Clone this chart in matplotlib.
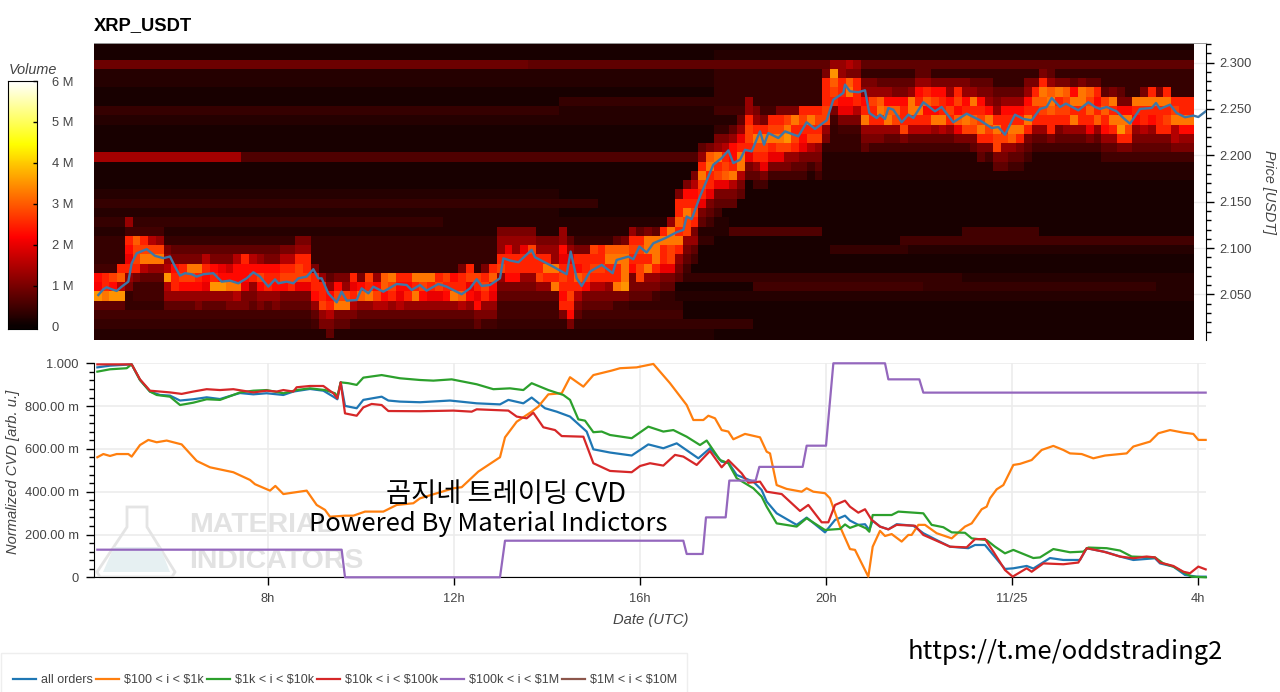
import numpy as np
import matplotlib
matplotlib.use('Agg')
import matplotlib.pyplot as plt
from matplotlib.patches import Polygon, Rectangle
from matplotlib.ticker import MultipleLocator
from matplotlib.transforms import Affine2D

# ----------------- data -----------------
# hours since 11/24 00:00, price in USDT
price_h = [4.351, 4.459, 4.530, 4.638, 4.746, 4.853, 4.996, 5.068, 5.176, 5.391, 5.570, 5.749, 5.892, 6.0, 6.108, 6.215,
           6.358, 6.466, 6.609, 6.824, 7.004, 7.183, 7.362, 7.541, 7.685, 7.828, 8.007, 8.151, 8.222, 8.401, 8.545,
           8.652, 8.832, 8.975, 9.082, 9.154, 9.297, 9.477, 9.584, 9.692, 9.907, 10.014, 10.158, 10.265, 10.480,
           10.767, 10.982, 11.090, 11.269, 11.412, 11.663, 11.842, 12.165, 12.344, 12.488, 12.595, 12.775, 12.989,
           13.061, 13.204, 13.384, 13.670, 13.742, 14.101, 14.423, 14.509, 14.638, 14.746, 14.925, 15.176, 15.412,
           15.498, 15.749, 15.857, 15.986, 16.143, 16.287, 16.538, 16.789, 16.932, 17.004, 17.111, 17.290, 17.577,
           17.756, 17.900, 18.007, 18.151, 18.258, 18.402, 18.581, 18.667, 18.760, 18.975, 19.119, 19.405, 19.584,
           19.763, 20.014, 20.158, 20.373, 20.409, 20.516, 20.695, 20.839, 20.932, 21.090, 21.161, 21.269, 21.341,
           21.448, 21.627, 21.771, 21.878, 22.093, 22.344, 22.487, 22.738, 23.025, 23.312, 23.563, 23.706, 23.849,
           24.064, 24.244, 24.423, 24.602, 24.746, 24.853, 25.032, 25.161, 25.427, 25.642, 25.785, 25.892, 26.036,
           26.251, 26.394, 26.538, 26.753, 27.004, 27.097, 27.183, 27.398, 27.541, 27.721, 27.900, 28.007, 28.165]
price = [2.0494, 2.0556, 2.0577, 2.0556, 2.0538, 2.0584, 2.0638, 2.0836, 2.0944, 2.0988, 2.0916, 2.0891, 2.0909, 2.0800,
         2.0703, 2.0729, 2.0718, 2.0692, 2.0718, 2.0729, 2.0638, 2.0649, 2.0620, 2.0674, 2.0739, 2.0692, 2.0584, 2.0663,
         2.0620, 2.0638, 2.0620, 2.0674, 2.0692, 2.0772, 2.0674, 2.0674, 2.0512, 2.0415, 2.0530, 2.0433, 2.0440, 2.0566,
         2.0512, 2.0584, 2.0530, 2.0613, 2.0602, 2.0548, 2.0602, 2.0541, 2.0613, 2.0584, 2.0502, 2.0566, 2.0664, 2.0592,
         2.0602, 2.0675, 2.0890, 2.0866, 2.0847, 2.0980, 2.0901, 2.0808, 2.0718, 2.0962, 2.0674, 2.0592, 2.0747, 2.0819,
         2.0729, 2.0872, 2.0908, 2.0880, 2.1016, 2.0952, 2.1052, 2.1106, 2.1171, 2.1196, 2.1340, 2.1312, 2.1556, 2.1898,
         2.1970, 2.2053, 2.1916, 2.1952, 2.2060, 2.2042, 2.2258, 2.2114, 2.2240, 2.2186, 2.2258, 2.2204, 2.2356, 2.2284,
         2.2377, 2.2600, 2.2672, 2.2762, 2.2690, 2.2680, 2.2701, 2.2456, 2.2402, 2.2438, 2.2392, 2.2510, 2.2492, 2.2356,
         2.2438, 2.2402, 2.2572, 2.2474, 2.2521, 2.2356, 2.2449, 2.2377, 2.2294, 2.2305, 2.2222, 2.2438, 2.2392, 2.2377,
         2.2500, 2.2521, 2.2618, 2.2521, 2.2557, 2.2485, 2.2572, 2.2521, 2.2500, 2.2521, 2.2474, 2.2402, 2.2341, 2.2500,
         2.2510, 2.2564, 2.2500, 2.2546, 2.2456, 2.2410, 2.2428, 2.2413, 2.2474]

# heatmap: 10 minute columns, 0.01 USDT rows from the top, volume in steps of 0.125 M (base 36 digits)
# background per row as (number of columns, level)
base_rows = [
    [(142, '1')], [(80, '1'), (62, '2')], [(56, '7'), (86, '6')], [(80, '2'), (62, '3')], [(80, '2'), (62, '3')],
    [(80, '1'), (62, '3')], [(60, '1'), (82, '3')], [(60, '3'), (20, '2'), (62, '4')], [(85, '2'), (57, '3')],
    [(80, '1'), (62, '3')], [(85, '1'), (57, '3')], [(85, '1'), (57, '3')], [(19, 'b'), (64, '5'), (59, '2')],
    [(85, '1'), (57, '2')], [(85, '1'), (57, '2')], [(142, '1')], [(60, '2'), (82, '1')], [(65, '3'), (77, '1')],
    [(60, '2'), (82, '1')], [(45, '3'), (37, '2'), (60, '1')], [(82, '2'), (12, '5'), (18, '1'), (10, '4'), (20, '1')],
    [(80, '3'), (24, '1'), (38, '4')], [(70, '3'), (25, '1'), (10, '3'), (37, '2')], [(70, '3'), (72, '1')],
    [(75, '3'), (67, '1')], [(75, '4'), (37, '3'), (30, '2')], [(75, '3'), (10, '1'), (22, '4'), (30, '3'), (5, '2')],
    [(75, '3'), (67, '2')], [(76, '3'), (66, '1')], [(76, '4'), (66, '1')], [(85, '3'), (57, '1')],
    [(80, '2'), (62, '1')], [(80, '2'), (62, '1')],
]
# hot band per column: first row and the levels going down from it
band_start = [24, 24, 24, 24, 19, 20, 20, 20, 20, 22, 22, 22, 22, 22, 22, 22, 22, 22, 22, 22,
              22, 22, 22, 22, 22, 22, 21, 21, 24, 25, 25, 25, 25, 25, 25, 25, 25, 25, 25, 25,
              25, 25, 25, 25, 25, 25, 25, 24, 24, 25, 24, 24, 20, 20, 20, 20, 20, 21, 21, 21,
              20, 21, 22, 22, 22, 22, 22, 21, 21, 20, 20, 20, 20, 20, 19, 16, 15, 14, 11, 11,
              10, 10, 9, 8, 6, 7, 8, 8, 7, 7, 7, 7, 7, 7, 3, 2, 2, 2, 2, 4,
              4, 4, 4, 4, 4, 4, 3, 3, 4, 4, 4, 4, 4, 4, 4, 4, 5, 5, 5, 5,
              4, 4, 3, 3, 4, 4, 4, 4, 4, 4, 5, 5, 5, 6, 6, 5, 5, 5, 5, 6, 6, 6]
band_levels = ['4ihs64', '4kkq64', '4mis64', 'kocs64', 'a4kigka8', '4ommk844', '4kmqc644', '4cmqa644', '4amqa644',
               '8acsca6', '68ikka6', '68kmia6', '68qmia6', '68qkia8', '6ckiga6', '68iksa6', '68gisa6', '68eiqa8',
               '6ciiqc8', '6kiig88', '6cika86', '6aimia8', '68ikka6', '68ikia8', '8ckmi86', '8ckmk86', '8akmmg86',
               '8akkmg86', '8kkia64', 'akkma8', '6aikc86', '8imq86', '8amq86', 'kgkc84', '8ioa64', 'mkqa64',
               'aimc64', 'ooic64', 'qmka64', 'kigc64', 'kika64', 'qkqa64', 'qmia64', 'qkga64', 'kmga64', 'mkia64',
               'ikqa64', '8kkoc64', 'kmgia64', 'mkgi86', '8kmka84', 'koiga84', '8aakma864', '8agkki864', '8aakki864',
               '8agkka864', '8amkka864', '8akkma64', '8akqka64', '8aaqkq64', 'aaigkmkik8', '6agkkkmki8', '8kiokc86',
               '8kkmi86', 'mkmkc86', 'kkmkc86', 'oqkka86', '6oqkkq84', '8oqqqs84', 'akmki886', '6kmkmm86', '8qqkqa86',
               '6qqqka84', 'kqkkg86', 'aqqmmg86', '8kkokqka86', '8ikqmma864', '8cikmk8a64', '6akqmkg86', '8oqkkg864',
               '8aqkmg864', '8ckmog86', '6aiikqc86', '6agkqqc86', 'aakmmkg86', '8akqmka64', '8kqmkg84', 'kmqkg84',
               '8kmqmg84', '8mqsma84', '8qkmka64', 'kmkig864', 'kqkmc84', 'kmkma864', '8kkkmma8', 'asomk84',
               'aakkig84', 'c8oqig84', 'a8kkkc84', '8aikqa86', '8amkka84', '6aoqka84', '6aioqa64', '68ioma64',
               '68ikkm84', '6aqqkc64', '6aikqkc64', '6akoikc64', '8imiqa64', '8ikkqc64', '8aimka64', '8kmiog84',
               '8aikqm84', '6aqkom86', '68ikmqk86', '68aiqmk84', '68akqmm86', '6aikkma86', '6aikqoa64', '6aikqk864',
               '8aikqk864', '8kokka64', '8kqomka64', '6aoqokk84', '8qkmk864', '8ommka64', '6iqkqa64', '8qqkka64',
               '6omokg84', '6kikoa64', '6mokia64', '8qkqka64', '68iqsk84', '8iqmk84', 'qkia864', '8qkkc864',
               'kqkia864', '8qkkk864', 'kqkmk864', 'kmqcc84', 'kkqia84', 'kkqia84']

# normalized CVD per order size
blue_h = [4.330, 4.602, 5.068, 5.247, 5.462, 5.677, 5.892, 6.108, 6.394, 6.681, 6.968, 7.254, 7.398, 7.685, 7.971, 8.330,
          8.545, 8.903, 9.190, 9.405, 9.491, 9.563, 9.656, 9.907, 10.050, 10.444, 10.588, 10.839, 11.269, 11.914, 12.488,
          12.989, 13.169, 13.491, 13.670, 13.957, 14.208, 14.495, 14.853, 14.997, 15.355, 15.821, 16.179, 16.502, 16.789,
          17.255, 17.505, 17.756, 17.900, 18.079, 18.437, 18.616, 18.724, 18.939, 19.369, 19.584, 19.978, 20.194, 20.409,
          20.516, 20.695, 20.839, 20.932, 21.004, 21.161, 21.341, 21.520, 21.878, 22.093, 22.344, 22.667, 23.061, 23.204,
          23.419, 23.599, 23.849, 24.029, 24.315, 24.459, 24.817, 25.104, 25.462, 25.606, 26.036, 26.323, 26.609, 27.075,
          27.183, 27.470, 27.720, 27.971, 28.165]
blue = [.981, .989, .995, .922, .868, .852, .849, .826, .832, .841, .833, .852, .861, .855, .860, .852, .868, .880, .872,
        .844, .832, .911, .801, .790, .829, .844, .826, .821, .818, .826, .813, .808, .829, .813, .840, .790, .774, .751,
        .681, .598, .583, .569, .621, .603, .626, .556, .603, .540, .537, .478, .447, .408, .354, .299, .245, .279, .210,
        .268, .288, .265, .245, .248, .221, .265, .237, .224, .248, .241, .206, .178, .143, .136, .151, .151, .104, .039,
        .042, .053, .041, .090, .081, .081, .136, .117, .097, .081, .089, .065, .050, .011, .003, .003]

orange_h = [4.330, 4.459, 4.602, 4.746, 4.996, 5.068, 5.247, 5.427, 5.606, 5.821, 6.143, 6.466, 6.753, 7.254, 7.613, 7.720,
            8.043, 8.158, 8.330, 8.832, 9.047, 9.226, 9.333, 9.656, 9.835, 10.086, 10.480, 10.767, 11.125, 11.269, 11.986,
            12.165, 12.523, 12.989, 13.097, 13.348, 13.670, 13.814, 14.029, 14.316, 14.495, 14.782, 14.997, 15.391, 15.570,
            15.928, 16.287, 16.645, 17.004, 17.147, 17.362, 17.470, 17.613, 17.756, 17.900, 18.007, 18.258, 18.581, 18.724,
            18.796, 18.939, 19.154, 19.477, 19.584, 19.728, 19.978, 20.086, 20.301, 20.516, 20.624, 20.910, 21.004, 21.161,
            21.269, 21.412, 21.627, 21.771, 21.842, 21.986, 22.129, 22.380, 22.703, 22.989, 23.133, 23.348, 23.455, 23.527,
            23.670, 23.814, 24.029, 24.172, 24.423, 24.638, 24.889, 25.104, 25.247, 25.498, 25.749, 26.000, 26.466, 26.609,
            26.968, 27.147, 27.398, 27.685, 27.900, 28.007, 28.165]
orange = [.561, .576, .567, .576, .576, .564, .618, .642, .631, .639, .621, .544, .514, .491, .455, .435, .405, .427, .389,
          .405, .338, .315, .283, .288, .288, .307, .307, .338, .346, .369, .416, .421, .494, .561, .654, .727, .774, .798,
          .855, .860, .935, .891, .945, .966, .977, .981, .997, .907, .805, .735, .735, .755, .743, .688, .681, .645, .670,
          .654, .587, .579, .431, .413, .400, .416, .400, .393, .369, .237, .132, .128, .003, .143, .217, .193, .202, .167,
          .198, .198, .245, .245, .206, .182, .237, .252, .318, .330, .369, .411, .431, .525, .530, .548, .595, .614, .595,
          .579, .576, .556, .569, .579, .611, .634, .673, .688, .676, .670, .642, .642]

green_h = [4.330, 4.602, 4.961, 5.068, 5.247, 5.462, 5.606, 5.892, 6.108, 6.394, 6.681, 6.968, 7.254, 7.398, 7.685, 7.971,
           8.330, 8.616, 8.903, 9.226, 9.441, 9.491, 9.563, 9.728, 9.907, 10.050, 10.444, 10.839, 11.269, 11.556, 11.950,
           12.488, 12.846, 13.204, 13.491, 13.670, 14.029, 14.351, 14.495, 14.674, 14.817, 14.997, 15.176, 15.355, 15.821,
           16.179, 16.502, 16.717, 17.004, 17.290, 17.434, 17.720, 17.900, 18.079, 18.437, 18.616, 18.724, 18.939, 19.369,
           19.584, 19.978, 20.301, 20.409, 20.516, 20.695, 20.860, 20.932, 21.004, 21.412, 21.556, 22.093, 22.272, 22.523,
           22.703, 22.989, 23.133, 23.455, 23.635, 23.849, 24.029, 24.459, 24.602, 24.889, 25.247, 25.534, 25.642, 26.036,
           26.323, 26.573, 27.075, 27.254, 27.470, 27.864, 28.165]
green = [.961, .972, .977, .995, .922, .868, .852, .844, .805, .816, .832, .829, .852, .864, .872, .875, .860, .875, .883,
         .875, .860, .844, .911, .907, .899, .933, .945, .930, .922, .919, .925, .902, .879, .883, .875, .907, .875, .852,
         .829, .738, .732, .678, .681, .665, .650, .704, .681, .688, .657, .618, .639, .548, .533, .463, .416, .377, .330,
         .252, .237, .276, .221, .226, .247, .231, .245, .229, .213, .291, .291, .307, .299, .245, .234, .210, .208, .182,
         .174, .143, .112, .128, .090, .093, .132, .117, .120, .139, .136, .125, .097, .093, .065, .050, .003, .000]

red_h = [4.330, 5.068, 5.247, 5.462, 5.677, 5.892, 6.143, 6.394, 6.681, 6.968, 7.254, 7.685, 7.971, 8.186, 8.330, 8.545,
         8.616, 8.903, 9.190, 9.405, 9.491, 9.563, 9.656, 9.907, 10.050, 10.229, 10.444, 10.588, 11.269, 11.986, 12.380,
         12.488, 13.169, 13.348, 13.563, 13.706, 13.921, 14.172, 14.316, 14.782, 14.997, 15.355, 15.821, 16.0, 16.215,
         16.502, 16.753, 16.932, 17.219, 17.505, 17.756, 17.900, 18.186, 18.330, 18.581, 18.724, 19.047, 19.441, 19.620,
         19.907, 20.050, 20.194, 20.409, 20.516, 20.695, 20.839, 20.982, 21.161, 21.341, 21.520, 21.914, 22.093, 22.344,
         22.667, 23.025, 23.204, 23.419, 23.599, 23.849, 24.014, 24.315, 24.423, 24.674, 25.104, 25.427, 25.606, 25.964,
         26.323, 26.609, 26.896, 27.075, 27.183, 27.470, 27.685, 27.828, 28.007, 28.165]
red = [.995, .995, .925, .872, .868, .864, .857, .868, .879, .875, .879, .864, .872, .868, .875, .868, .888, .894, .894,
       .860, .836, .911, .766, .755, .794, .810, .805, .777, .776, .779, .774, .785, .779, .751, .743, .769, .701, .688,
       .660, .657, .533, .497, .491, .520, .533, .522, .572, .564, .525, .590, .514, .548, .486, .442, .447, .400, .389,
       .310, .338, .257, .257, .338, .358, .330, .302, .318, .268, .237, .224, .245, .241, .198, .174, .143, .140, .178,
       .179, .120, .034, .003, .042, .026, .065, .061, .069, .136, .120, .097, .089, .097, .093, .069, .053, .026, .019,
       .050, .037]

purple_h = [4.330, 9.584, 9.656, 12.989, 13.097, 16.932, 17.004, 17.348, 17.419, 17.842, 17.921, 18.487, 18.566, 19.498,
            19.584, 20.0, 20.158, 21.269, 21.341, 22.007, 22.093, 28.165]
purple = [.129, .129, 0, 0, .171, .171, .109, .109, .280, .280, .452, .452, .516, .516, .615, .615, 1.0, 1.0, .925, .925,
          .863, .863]

price_ticks = [2.05, 2.10, 2.15, 2.20, 2.25, 2.30]
cvd_ticks = [0, 0.2, 0.4, 0.6, 0.8, 1.0]
cvd_labels = ['0', '200.00 m', '400.00 m', '600.00 m', '800.00 m', '1.000']
time_ticks = [8, 12, 16, 20, 24, 28]
time_labels = ['8h', '12h', '16h', '20h', '11/25', '4h']
vol_ticks = [0, 1, 2, 3, 4, 5, 6]
vol_labels = ['0', '1 M', '2 M', '3 M', '4 M', '5 M', '6 M']

# ----------------- figure -----------------
plt.rcParams['font.family'] = ['Liberation Sans', 'DejaVu Sans']
GREY = '#444444'
GRID = '#ececec'
W, H = 1280, 692
XLIM = (4.258, 28.172)

fig = plt.figure(figsize=(W / 100, H / 100), dpi=100)
px = Affine2D().scale(1, -1).translate(0, H)  # y down pixels for the free text


def pos(left, top, right, bottom):
    return [left / W, 1 - bottom / H, (right - left) / W, (bottom - top) / H]


# heatmap panel
ax1 = fig.add_axes(pos(94, 42.5, 1206, 340))
volume = np.zeros((len(base_rows), len(band_start)))
for r, segs in enumerate(base_rows):
    volume[r] = [int(lv, 36) * 0.125 for n, lv in segs for _ in range(n)]
for c, (s, lv) in enumerate(zip(band_start, band_levels)):
    for k, ch in enumerate(lv):
        volume[s + k, c] = max(volume[s + k, c], int(ch, 36) * 0.125)
t_edges = XLIM[0] + np.arange(volume.shape[1] + 1) / 6
p_edges = 2.3232 - 0.01 * np.arange(volume.shape[0] + 1)
ax1.pcolormesh(t_edges, p_edges, volume, cmap='hot', vmin=0, vmax=6, zorder=2, linewidth=0, antialiased=False)
ax1.plot(price_h, price, color='#3d78a8', lw=1.7, zorder=3, solid_joinstyle='round')
ax1.set_xlim(XLIM)
ax1.set_ylim(2.0009, 2.3216)
ax1.yaxis.tick_right()
ax1.set_yticks(price_ticks, [f'{p:.3f}' for p in price_ticks])
ax1.yaxis.set_minor_locator(MultipleLocator(0.01))
ax1.set_xticks([])
ax1.tick_params(axis='y', which='major', length=6, width=1, color='k', labelcolor=GREY, labelsize=9.3, pad=3.5)
ax1.tick_params(axis='y', which='minor', length=3.5, width=1, color='k')
ax1.grid(axis='y', color=GRID, lw=1, zorder=0)
for side in ['left', 'bottom']:
    ax1.spines[side].set_visible(False)
ax1.spines['top'].set_color('#999999')
ax1.spines['top'].set_linewidth(0.7)
ax1.spines['right'].set_color('k')

# CVD panel
ax2 = fig.add_axes(pos(94, 363.3, 1206, 577.3))
ax2.plot(blue_h, blue, color='tab:blue', lw=1.6, label='all orders', zorder=3, clip_on=False)
ax2.plot(orange_h, orange, color='tab:orange', lw=1.6, label=r'\$100 < i < \$1k', zorder=3, clip_on=False)
ax2.plot(green_h, green, color='tab:green', lw=1.6, label=r'\$1k < i < \$10k', zorder=3, clip_on=False)
ax2.plot(red_h, red, color='tab:red', lw=1.6, label=r'\$10k < i < \$100k', zorder=3, clip_on=False)
ax2.plot(purple_h, purple, color='tab:purple', lw=1.6, label=r'\$100k < i < \$1M', zorder=3, clip_on=False)
ax2.plot([], [], color='tab:brown', lw=1.6, label=r'\$1M < i < \$10M')
ax2.set_xlim(XLIM)
ax2.set_ylim(0, 1)
ax2.set_xticks(time_ticks, time_labels)
ax2.set_yticks(cvd_ticks, cvd_labels)
ax2.yaxis.set_minor_locator(MultipleLocator(0.04))
ax2.tick_params(axis='both', which='major', length=6, width=1, color='k', labelcolor=GREY, labelsize=9.3, pad=5)
ax2.tick_params(axis='y', which='minor', length=3.5, width=1, color='k')
ax2.grid(True, color=GRID, lw=1.2, zorder=0)
ax2.set_axisbelow(True)
for side in ['top', 'right']:
    ax2.spines[side].set_visible(False)
ax2.spines['bottom'].set_color('k')
ax2.spines['left'].set_color('k')

# colour bar
cax = fig.add_axes(pos(8, 81, 37, 329))
cax.imshow(np.linspace(6, -0.05, 256)[:, None], cmap='hot', vmin=0, vmax=6, aspect='auto', extent=(0, 1, -0.05, 6))
cax.set_xticks([])
cax.yaxis.tick_right()
cax.set_yticks(vol_ticks, vol_labels)
cax.tick_params(axis='y', direction='in', length=3, width=1, color='k', labelcolor=GREY, labelsize=9.3, pad=10.5)
for sp in cax.spines.values():
    sp.set_linewidth(0.8)

# labels
ax2.text(94, 26, 'XRP_USDT', transform=px, fontsize=13.2, fontweight='bold', color='k', ha='left', va='center')
ax2.text(33, 70, 'Volume', transform=px, fontsize=10.4, style='italic', color=GREY, ha='center', va='center')
ax2.text(1269, 192, 'Price [USDT]', transform=px, fontsize=10.4, style='italic', color=GREY, rotation=270,
         ha='center', va='center')
ax2.text(13, 472, 'Normalized CVD [arb. u.]', transform=px, fontsize=10.6, style='italic', color=GREY, rotation=90,
         ha='center', va='center')
ax2.text(651, 620, 'Date (UTC)', transform=px, fontsize=10.6, style='italic', color=GREY, ha='center', va='center')

# watermark
flask = [(127, 507), (147, 507), (147, 527), (175, 572), (172, 577), (100, 577), (97, 572), (127, 527)]
liquid = [(114, 547), (160, 547), (170, 572), (103, 572)]
ax2.add_patch(Polygon(flask, closed=True, fill=False, ec='#e4e4e4', lw=2, transform=px, zorder=1, clip_on=False))
ax2.add_patch(Polygon(liquid, closed=True, fc='#e6f0f2', ec='none', transform=px, zorder=1, clip_on=False))
ax2.text(189, 525, 'MATERIAL', transform=px, fontsize=20.5, fontweight='bold', color='#e2e2e2',
         ha='left', va='center', zorder=1)
ax2.text(189, 561, 'INDICATORS', transform=px, fontsize=20.5, fontweight='bold', color='#e2e2e2',
         ha='left', va='center', zorder=1)

# overlay text
kr_font = ['Noto Sans CJK KR', 'DejaVu Sans']
ax2.text(506, 494, '곰지네 트레이딩 CVD', transform=px, family=kr_font, fontsize=19.7, color='k', ha='center', va='center',
         zorder=5)
ax2.text(488.5, 524, 'Powered By Material Indictors', transform=px, family=kr_font, fontsize=18.4, color='k', ha='center',
         va='center', zorder=5)
ax2.text(1065, 652, 'https://t.me/oddstrading2', transform=px, family=kr_font, fontsize=18.4, fontweight='medium',
         color='k', ha='center', va='center', zorder=5)

# legend
ax2.add_patch(Rectangle((1, 653), 686, 40, fc='white', ec='#eeeeee', lw=1, transform=px, clip_on=False, zorder=1))
handles, labels = ax2.get_legend_handles_labels()
leg = fig.legend(handles, labels, ncol=6, loc='lower left', bbox_to_anchor=pos(13, 668, 677, 686), mode='expand',
                 fontsize=9, labelcolor=GREY, frameon=False, handlelength=1.85, handletextpad=0.4, columnspacing=0.3,
                 borderaxespad=0, borderpad=0)

fig.savefig('out.png', dpi=100)
